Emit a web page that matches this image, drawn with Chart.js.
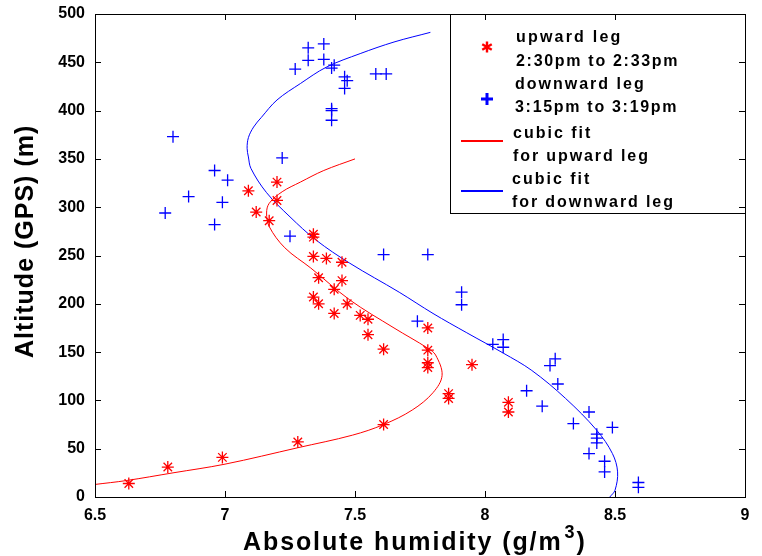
<!DOCTYPE html>
<html>
<head>
<meta charset="utf-8">
<script src="https://cdn.jsdelivr.net/npm/chart.js@4.4.1/dist/chart.umd.min.js"></script>
<style>
  body { margin: 0; background: #fff; }
  .wrap { width: 762px; height: 556px; position: relative; }
</style>
</head>
<body>
<div class="wrap"><canvas id="humidity"></canvas></div>
<script>
// upward leg, 2:30pm to 2:33pm
const upHumidity = [6.63, 6.78, 6.99, 7.28, 7.61, 7.86, 7.86, 8.09, 8.09, 7.78, 7.78, 7.78,
  7.95, 7.61, 7.55, 7.78, 7.55, 7.52, 7.42, 7.47, 7.36, 7.34, 7.42, 7.45, 7.36, 7.45, 7.39,
  7.34, 7.34, 7.34, 7.17, 7.12, 7.20, 7.09, 7.20];
const upAltitude = [14, 31, 41, 57, 75, 102, 107, 88, 98, 134, 139, 152,
  137, 153, 168, 175, 184, 188, 190, 200, 200, 207, 215, 224, 227, 243, 247,
  249, 269, 272, 286, 295, 307, 317, 326];

// downward leg, 3:15pm to 3:19pm
const downHumidity = [7.32, 7.32, 7.38, 7.38, 7.27, 7.42, 7.41, 7.46, 7.47, 7.46, 7.58, 7.62,
  7.41, 7.41, 7.41, 6.80, 7.22, 6.96, 7.01, 6.86, 6.99, 6.77, 6.96, 7.25, 7.61, 7.78,
  7.91, 7.91, 7.74, 8.03, 8.07, 8.07, 8.27, 8.25, 8.28, 8.16, 8.22, 8.40, 8.34, 8.49,
  8.43, 8.43, 8.43, 8.40, 8.46, 8.46, 8.59, 8.59];
const downAltitude = [465, 452, 469, 453, 443, 447, 444, 435, 431, 423, 438, 438,
  402, 400, 390, 373, 351, 338, 328, 311, 305, 294, 282, 270, 251, 251,
  212, 199, 182, 158, 163, 155, 143, 136, 117, 110, 94, 88, 76, 72,
  65, 61, 56, 45, 37, 26, 15, 10];

// cubic fit curves
const upFitAltitude = [13, 17, 25, 34, 51, 64, 75, 90, 108, 126, 147, 154, 175, 204, 237,
  258, 280, 294, 304, 316, 326, 338, 350];
const upFitHumidity = [6.50, 6.62, 6.80, 7.00, 7.28, 7.49, 7.61, 7.72, 7.80, 7.835, 7.81,
  7.78, 7.65, 7.48, 7.33, 7.23, 7.17, 7.16, 7.17, 7.22, 7.29, 7.38, 7.50];
const downFitAltitude = [0, 7, 26, 45, 69, 102, 131, 149, 170, 190, 212, 242, 266, 290,
  315, 340, 352, 361, 372, 383, 393, 411, 428, 445, 459, 471, 481];
const downFitHumidity = [8.48, 8.50, 8.51, 8.49, 8.43, 8.31, 8.18, 8.07, 7.93, 7.80, 7.67,
  7.48, 7.35, 7.25, 7.16, 7.10, 7.09, 7.085, 7.09, 7.11, 7.14, 7.20, 7.29, 7.39, 7.52, 7.65, 7.79];

const xTicks = [6.5, 7, 7.5, 8, 8.5, 9];
const yTicks = [0, 50, 100, 150, 200, 250, 300, 350, 400, 450, 500];

const FONT = '"Liberation Sans", Arial, sans-serif';
const toPoints = (xs, ys) => xs.map((x, i) => ({ x: x, y: ys[i] }));

function spaced(ctx, text, x, y, spacing) {
  ctx.letterSpacing = spacing + "px";
  ctx.fillText(text, x, y);
  const w = ctx.measureText(text).width;
  ctx.letterSpacing = "0px";
  return w;
}

function drawLegend(ctx, a) {
  const l = a.right - 295, t = a.top, b = a.top + 199;
  ctx.fillStyle = "#fff";
  ctx.fillRect(l, t, a.right - l, b - t);
  ctx.strokeStyle = "#000";
  ctx.lineWidth = 1;
  ctx.strokeRect(l + 0.5, t + 0.5, a.right - l, b - t);

  // asterisk marker
  const sx = l + 37, sy = t + 33;
  ctx.strokeStyle = "#ff0000";
  ctx.lineWidth = 2.4;
  ctx.beginPath();
  [90, 30, 150].forEach(d => {
    const r = d * Math.PI / 180;
    ctx.moveTo(sx - Math.cos(r) * 5.5, sy - Math.sin(r) * 5.5);
    ctx.lineTo(sx + Math.cos(r) * 5.5, sy + Math.sin(r) * 5.5);
  });
  ctx.stroke();

  // plus marker
  const px = l + 37, py = t + 85;
  ctx.strokeStyle = "#0000ff";
  ctx.lineWidth = 3;
  ctx.beginPath();
  ctx.moveTo(px - 6, py); ctx.lineTo(px + 6, py);
  ctx.moveTo(px, py - 6); ctx.lineTo(px, py + 6);
  ctx.stroke();

  // line samples
  ctx.lineWidth = 2;
  ctx.strokeStyle = "#ff0000";
  ctx.beginPath(); ctx.moveTo(l + 11, t + 127); ctx.lineTo(l + 53, t + 127); ctx.stroke();
  ctx.strokeStyle = "#0000ff";
  ctx.beginPath(); ctx.moveTo(l + 11, t + 177); ctx.lineTo(l + 53, t + 177); ctx.stroke();

  ctx.fillStyle = "#000";
  ctx.font = "bold 16px " + FONT;
  ctx.textAlign = "left";
  ctx.textBaseline = "alphabetic";
  spaced(ctx, "upward leg", l + 66, t + 28, 2.2);
  spaced(ctx, "2:30pm to 2:33pm", l + 66, t + 52, 1.7);
  spaced(ctx, "downward leg", l + 65, t + 75, 2.0);
  spaced(ctx, "3:15pm to 3:19pm", l + 65, t + 98, 1.7);
  spaced(ctx, "cubic fit", l + 63, t + 124, 2.0);
  spaced(ctx, "for upward leg", l + 63, t + 147, 1.9);
  spaced(ctx, "cubic fit", l + 62, t + 170, 2.0);
  spaced(ctx, "for downward leg", l + 62, t + 193, 1.9);
}

const framePlugin = {
  id: "frame",
  afterDraw(chart) {
    const { ctx, chartArea: a, scales } = chart;
    ctx.save();
    drawLegend(ctx, a);

    ctx.strokeStyle = "#000";
    ctx.lineWidth = 1;
    ctx.strokeRect(a.left + 0.5, a.top + 0.5, a.right - a.left, a.bottom - a.top);
    ctx.beginPath();
    xTicks.forEach(v => {
      const x = Math.round(scales.x.getPixelForValue(v)) + 0.5;
      ctx.moveTo(x, a.bottom); ctx.lineTo(x, a.bottom - 6);
      ctx.moveTo(x, a.top); ctx.lineTo(x, a.top + 6);
    });
    yTicks.forEach(v => {
      const y = Math.round(scales.y.getPixelForValue(v)) + 0.5;
      ctx.moveTo(a.left, y); ctx.lineTo(a.left + 6, y);
      ctx.moveTo(a.right, y); ctx.lineTo(a.right - 6, y);
    });
    ctx.stroke();

    // axis titles
    ctx.fillStyle = "#000";
    ctx.textAlign = "left";
    ctx.textBaseline = "alphabetic";
    ctx.font = "bold 25px " + FONT;
    let x0 = a.left + 148;
    const w = spaced(ctx, "Absolute humidity (g/m", x0, a.bottom + 53, 1.9);
    ctx.font = "bold 18px " + FONT;
    ctx.fillText("3", x0 + w + 2, a.bottom + 41);
    ctx.font = "bold 25px " + FONT;
    ctx.fillText(")", x0 + w + 14, a.bottom + 53);

    ctx.translate(a.left - 62, a.top + 344);
    ctx.rotate(-Math.PI / 2);
    spaced(ctx, "Altitude (GPS) (m)", 0, 0, 1.0);
    ctx.restore();
  }
};

new Chart(document.getElementById("humidity"), {
  type: "scatter",
  data: {
    datasets: [
      {
        label: "upward leg",
        data: toPoints(upHumidity, upAltitude),
        pointStyle: "star",
        radius: 6,
        borderWidth: 1.3,
        borderColor: "#ff0000",
        backgroundColor: "#ff0000",
      },
      {
        label: "downward leg",
        data: toPoints(downHumidity, downAltitude),
        pointStyle: "cross",
        radius: 6,
        borderWidth: 1.3,
        borderColor: "#0000ff",
        backgroundColor: "#0000ff",
      },
      {
        label: "cubic fit for upward leg",
        data: toPoints(upFitHumidity, upFitAltitude),
        showLine: true,
        radius: 0,
        borderWidth: 1,
        tension: 0.35,
        borderColor: "#ff0000",
      },
      {
        label: "cubic fit for downward leg",
        data: toPoints(downFitHumidity, downFitAltitude),
        showLine: true,
        radius: 0,
        borderWidth: 1,
        tension: 0.35,
        borderColor: "#0000ff",
      },
    ],
  },
  options: {
    responsive: true,
    maintainAspectRatio: false,
    animation: false,
    events: [],
    layout: { padding: { top: 14, right: 17, left: 0, bottom: 0 } },
    plugins: {
      legend: { display: false },
      tooltip: { enabled: false },
    },
    scales: {
      x: {
        type: "linear",
        min: 6.5,
        max: 9,
        afterBuildTicks: s => { s.ticks = xTicks.map(v => ({ value: v })); },
        afterFit: s => { s.height = 59; s.paddingLeft = 0; s.paddingRight = 0; },
        grid: { display: false, drawTicks: false },
        border: { display: false },
        ticks: {
          padding: 9,
          color: "#000",
          font: { family: FONT, size: 16, weight: "bold" },
          callback: v => String(v),
        },
      },
      y: {
        type: "linear",
        min: 0,
        max: 500,
        afterBuildTicks: s => { s.ticks = yTicks.map(v => ({ value: v })); },
        afterFit: s => { s.width = 95; s.paddingTop = 0; s.paddingBottom = 0; },
        grid: { display: false, drawTicks: false },
        border: { display: false },
        ticks: {
          padding: 10,
          color: "#000",
          font: { family: FONT, size: 16, weight: "bold" },
          callback: v => String(v),
        },
      },
    },
  },
  plugins: [framePlugin],
});
</script>
</body>
</html>
